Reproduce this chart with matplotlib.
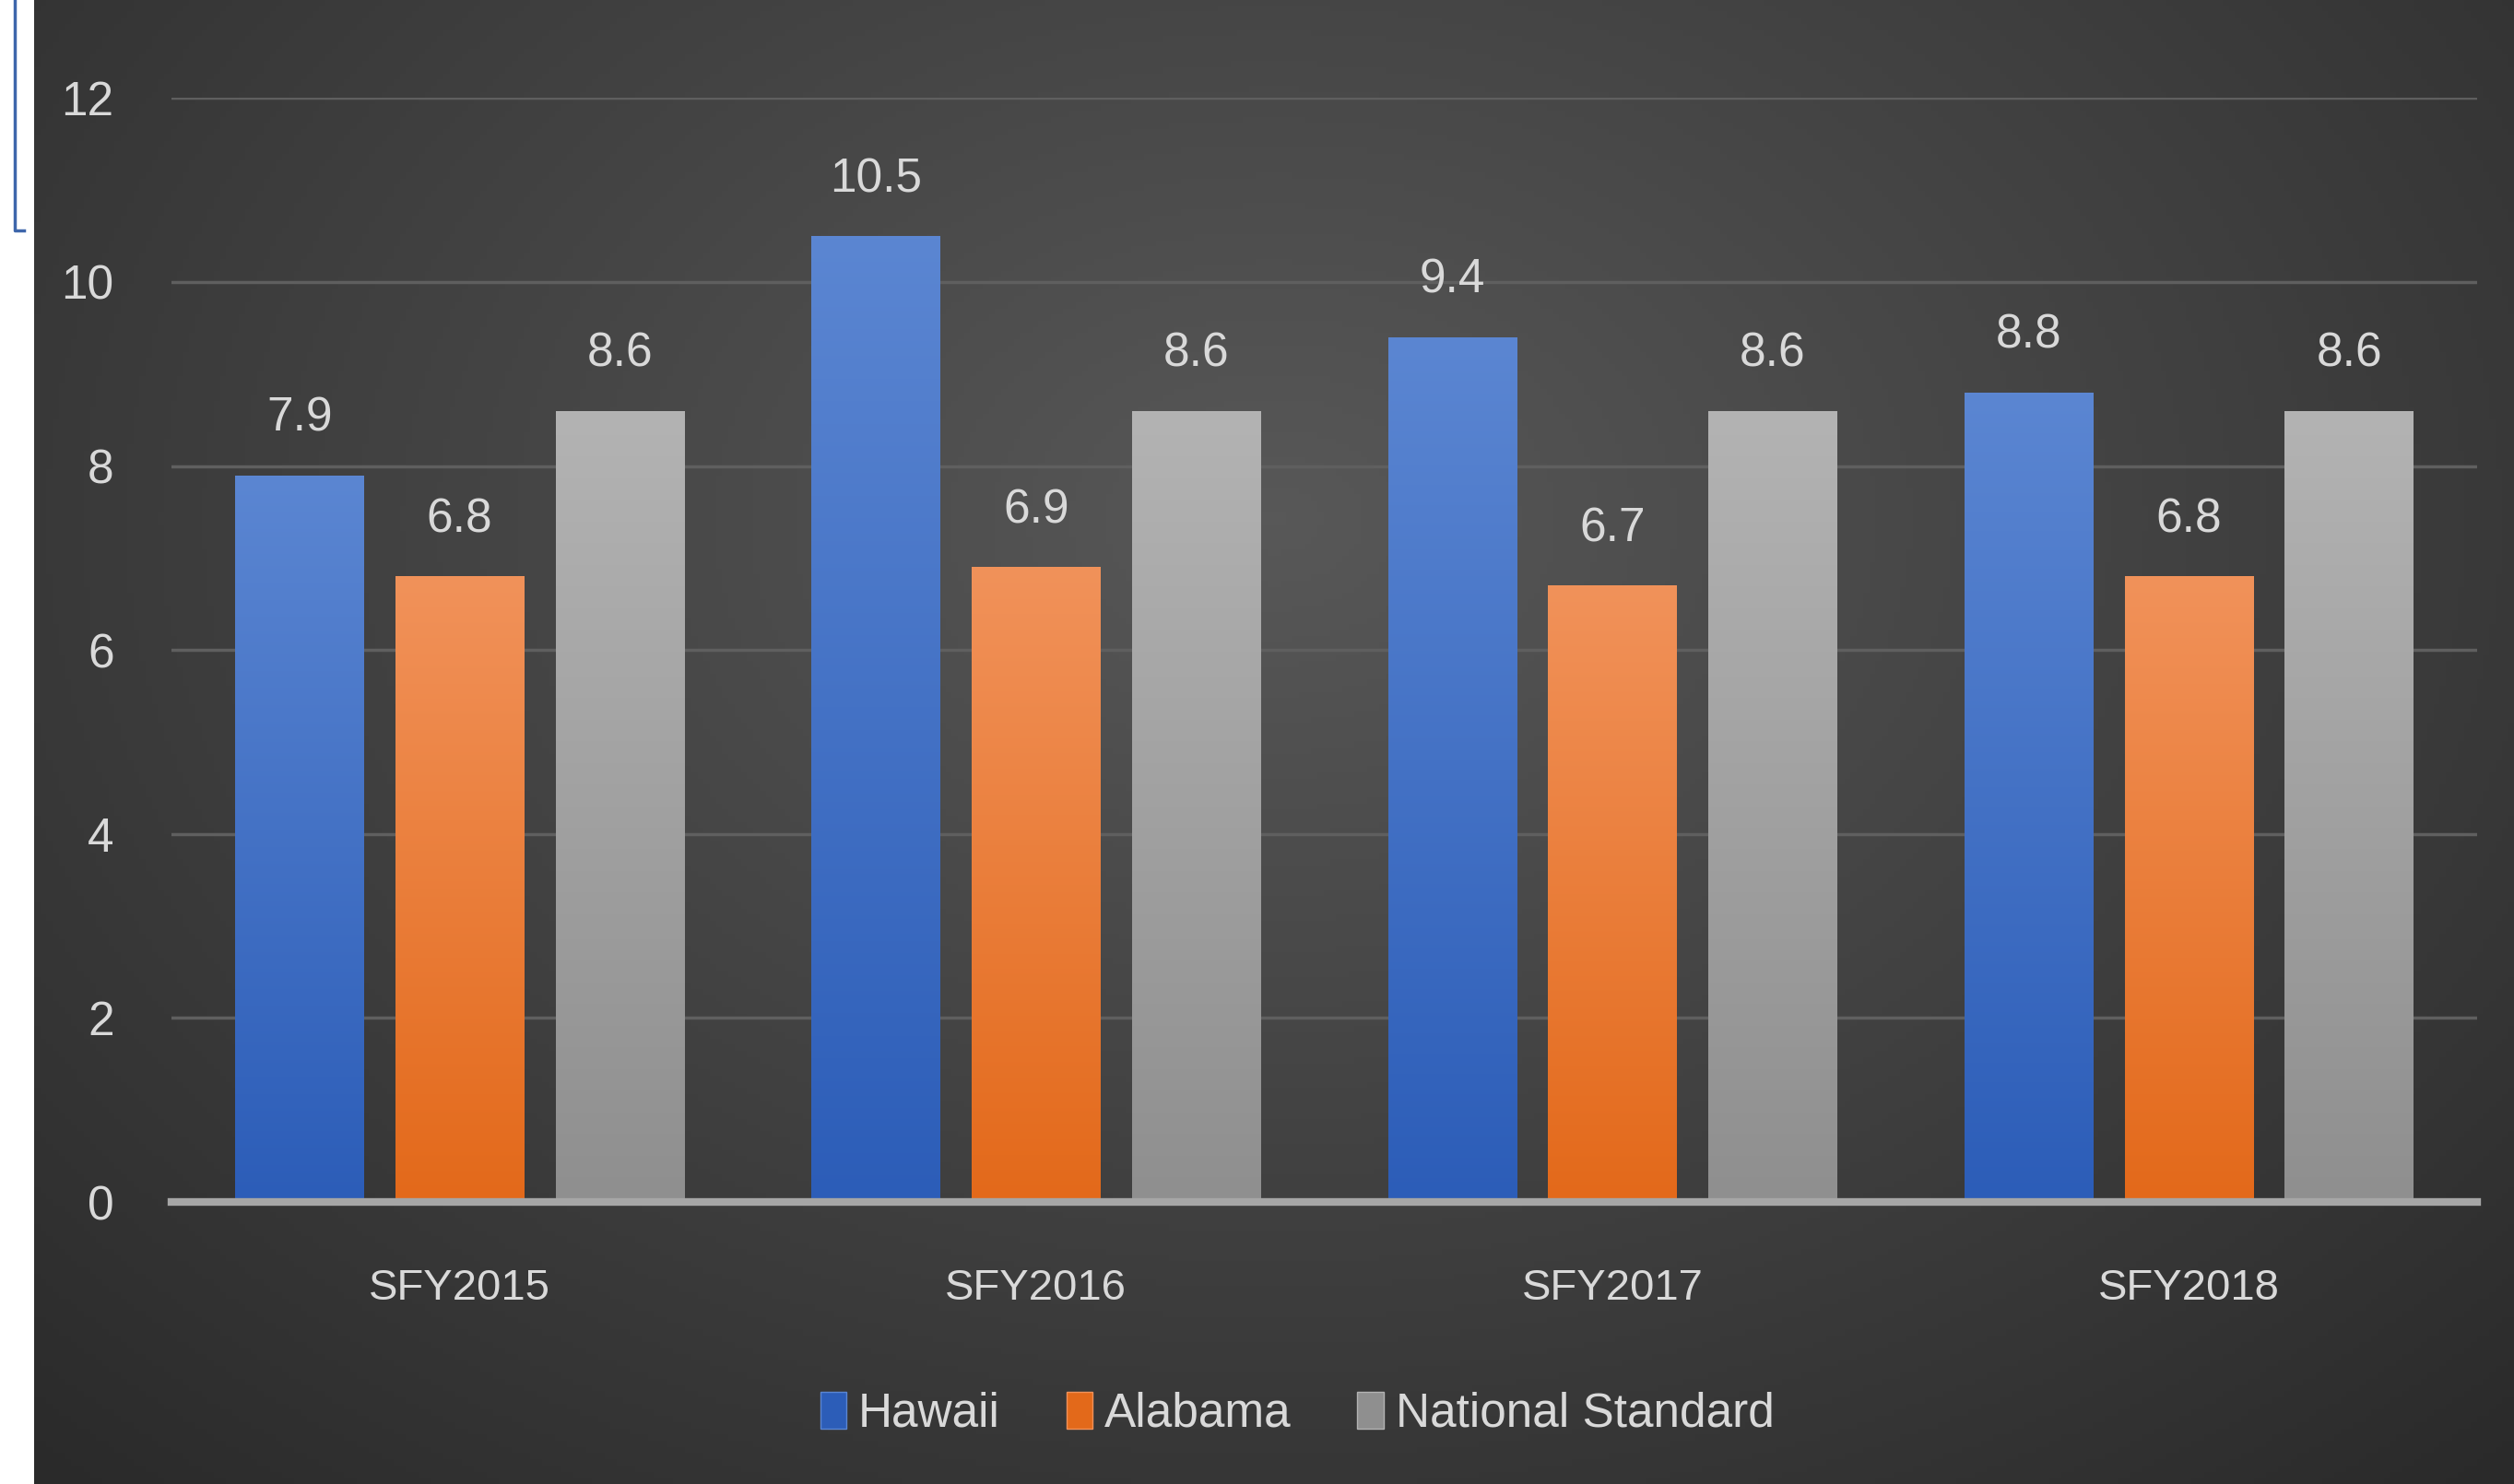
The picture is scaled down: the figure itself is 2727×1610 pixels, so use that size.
import numpy as np
import matplotlib as mpl
import matplotlib.pyplot as plt
from matplotlib.patches import Patch
from matplotlib.lines import Line2D
from matplotlib.colors import LinearSegmentedColormap

#-- Data
years = ['SFY2015', 'SFY2016', 'SFY2017', 'SFY2018']
hawaii = [7.9, 10.5, 9.4, 8.8]
alabama = [6.8, 6.9, 6.7, 6.8]
national = [8.6, 8.6, 8.6, 8.6]
series_names = ['Hawaii', 'Alabama', 'National Standard']

# top / bottom colour of each bar gradient
grad_colors = [('#5b86d2', '#2c5db8'), ('#f1925a', '#e3691a'), ('#b3b3b3', '#8f8f8f')]
txt_color = '#d9d9d9'

plt.rcParams['font.family'] = ['Liberation Sans Narrow', 'Liberation Sans', 'DejaVu Sans']

W, H = 2727, 1610
fig = plt.figure(figsize=(W / 100, H / 100), dpi=100)
fig.patch.set_facecolor('white')

#-- dark radial background
bg = fig.add_axes([37 / W, 0, 1 - 37 / W, 1])
gx, gy = np.meshgrid(np.linspace(0, 1, 400), np.linspace(0, 1, 240))
r = np.sqrt(((gx - 0.5) / 0.75) ** 2 + ((gy - 0.35) / 0.9) ** 2)
shade = np.clip(r, 0, 1)
bg_cmap = LinearSegmentedColormap.from_list('bg', ['#585858', '#2a2a2a'])
bg.imshow(shade, cmap=bg_cmap, aspect='auto', extent=(0, 1, 0, 1), origin='upper')
bg.axis('off')

# blue bracket on the white strip
fig.add_artist(Line2D([26 / W, 16 / W, 16 / W], [1 - 250 / H, 1 - 250 / H, 1.0],
                      transform=fig.transFigure, color='#3e66ab', linewidth=2.5))

#-- bars
ax = fig.add_axes([186 / W, 0.190, (2687 - 186) / W, 0.744])
ax.set_facecolor('none')
x = np.arange(len(years))
width = 0.223
offsets = [-0.278, 0, 0.278]
all_vals = [hawaii, alabama, national]

grad = np.linspace(0, 1, 256).reshape(-1, 1)
for vals, off, (c_top, c_bot) in zip(all_vals, offsets, grad_colors):
    cmap = LinearSegmentedColormap.from_list('g', [c_bot, c_top])
    bars = ax.bar(x + off, vals, width, color=c_bot, zorder=3)
    for b, v in zip(bars, vals):
        x0 = b.get_x()
        im = ax.imshow(grad, cmap=cmap, aspect='auto', origin='lower',
                       extent=(x0, x0 + width, 0, v), zorder=4)
        im.set_clip_path(b)
        ax.text(x0 + width / 2, v + 0.37, f'{v:.1f}', ha='center', va='bottom',
                fontsize=37, color=txt_color, zorder=5)

ax.set_xlim(-0.5, 3.5)
ax.set_ylim(0, 12)
ax.set_yticks(range(0, 13, 2))
ax.set_xticks(x)
ax.set_xticklabels(years)
ax.yaxis.grid(True, color='#5f5f5f', linewidth=2.5, zorder=0)
ax.set_axisbelow(True)
for s in ['top', 'right', 'left']:
    ax.spines[s].set_visible(False)
ax.spines['bottom'].set_color('#a6a6a6')
ax.spines['bottom'].set_linewidth(6)
ax.spines['bottom'].set_zorder(6)
ax.tick_params(axis='y', length=0, pad=45, labelsize=37, labelcolor=txt_color)
ax.tick_params(axis='x', length=0, pad=52, labelsize=34, labelcolor=txt_color)

#-- legend
handles = [Patch(facecolor=c[1], edgecolor=c[0], linewidth=1) for c in grad_colors]
fig.legend(handles, series_names, loc='center', bbox_to_anchor=(0.516, 0.047), ncol=3,
           frameon=False, fontsize=37, labelcolor=txt_color, handlelength=0.55,
           handleheight=0.8, handletextpad=0.25, columnspacing=1.4)

fig.savefig('out.png', dpi=100)
